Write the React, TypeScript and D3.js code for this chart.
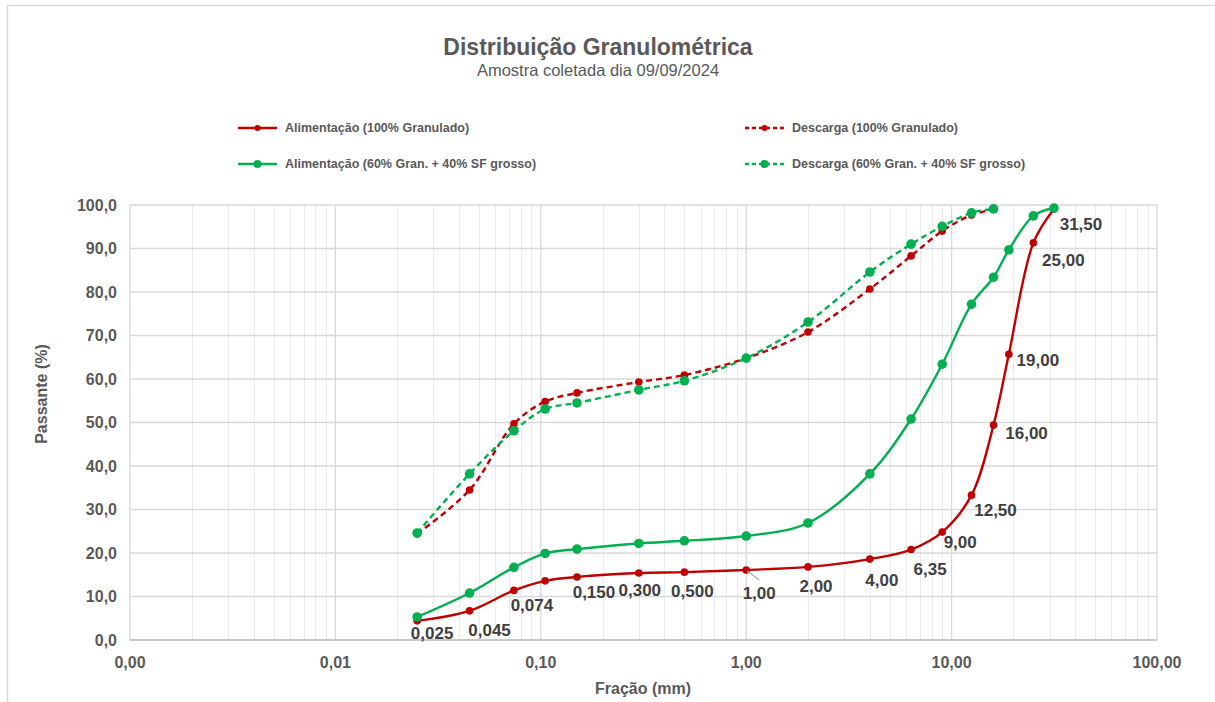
import React, { useEffect, useRef } from 'react';
import * as d3 from 'd3';

// Frações (mm) das peneiras
const fracoes = [0.025, 0.045, 0.074, 0.105, 0.15, 0.3, 0.5, 1, 2, 4, 6.35, 9, 12.5, 16, 19, 25, 31.5];

// Rótulos de dados da série Alimentação (100% Granulado)
const rotulos = ['0,025', '0,045', '0,074', '', '0,150', '0,300', '0,500', '1,00', '2,00', '4,00', '6,35', '9,00', '12,50', '16,00', '19,00', '25,00', '31,50'];

// Passante (%) por série
const alimGranulado = [4.4, 6.7, 11.4, 13.6, 14.5, 15.4, 15.6, 16.1, 16.8, 18.6, 20.8, 24.8, 33.3, 49.4, 65.7, 91.3, 99.1];
const descGranulado = [24.4, 34.5, 49.7, 54.8, 56.8, 59.3, 60.9, 64.8, 70.8, 80.7, 88.3, 94.0, 97.7, 99.0];
const alimMistura = [5.3, 10.8, 16.7, 19.9, 20.9, 22.2, 22.8, 23.9, 26.9, 38.2, 50.8, 63.4, 77.2, 83.4, 89.7, 97.5, 99.3];
const descMistura = [24.6, 38.2, 48.1, 53.1, 54.5, 57.5, 59.6, 64.8, 73.1, 84.6, 91.0, 95.1, 98.2, 99.1];

const xTicks = [0.001, 0.01, 0.1, 1, 10, 100];
const yTicks = [0, 10, 20, 30, 40, 50, 60, 70, 80, 90, 100];

// deslocamento dos rótulos (px) em relação ao ponto
const rotuloOffset: [number, number][] = [
  [15, 12], [20, 19], [18, 15], [0, 0], [17, 15], [1, 17], [8, 19], [13, 23], [8, 19],
  [12, 21], [19, 20], [18, 10], [24, 15], [33, 8], [29, 6], [30, 17], [27, 15],
];

const RED = '#C00000';
const GREEN = '#00B050';
const TXT = '#595959';
const FONT = '"Liberation Sans", Arial, sans-serif';

function App() {
  const svgRef = useRef<SVGSVGElement>(null);

  useEffect(() => {
    const W = 1215, H = 702;
    const svg = d3.select(svgRef.current);
    svg.selectAll('*').remove();
    svg.attr('width', W).attr('height', H).style('font-family', FONT);

    const locale = d3.formatLocale({ decimal: ',', thousands: '.', grouping: [3], currency: ['', ''] });
    const fx = locale.format('.2f');
    const fy = locale.format('.1f');

    // borda do gráfico
    svg.append('rect').attr('x', 7.5).attr('y', 5.5).attr('width', W).attr('height', H)
      .attr('fill', '#fff').attr('stroke', '#D9D9D9').attr('stroke-width', 1.5);

    const x = d3.scaleLog().domain([0.001, 100]).range([130, 1157]);
    const y = d3.scaleLinear().domain([0, 100]).range([640, 205]);

    // grade secundária (log)
    const minor: number[] = [];
    for (let e = -3; e < 2; e++) for (let m = 2; m <= 9; m++) minor.push(m * Math.pow(10, e));
    svg.append('g').selectAll('line').data(minor).enter().append('line')
      .attr('x1', d => Math.round(x(d)) + 0.5).attr('x2', d => Math.round(x(d)) + 0.5)
      .attr('y1', y(100)).attr('y2', y(0))
      .attr('stroke', '#EBEBEB').attr('stroke-width', 1);

    // grade principal
    svg.append('g').selectAll('line').data(yTicks).enter().append('line')
      .attr('x1', x(0.001)).attr('x2', x(100))
      .attr('y1', d => y(d)).attr('y2', d => y(d))
      .attr('stroke', '#D9D9D9').attr('stroke-width', 1.3);
    svg.append('g').selectAll('line').data(xTicks).enter().append('line')
      .attr('x1', d => x(d)).attr('x2', d => x(d))
      .attr('y1', y(100)).attr('y2', y(0))
      .attr('stroke', '#D9D9D9').attr('stroke-width', 1.3);

    // eixo inferior
    svg.append('line').attr('x1', x(0.001)).attr('x2', x(100)).attr('y1', y(0)).attr('y2', y(0))
      .attr('stroke', '#BFBFBF').attr('stroke-width', 1.3);

    // rótulos dos eixos
    svg.append('g').selectAll('text').data(yTicks).enter().append('text')
      .attr('x', 117).attr('y', d => y(d)).attr('dy', '0.35em')
      .attr('text-anchor', 'end').attr('font-size', 16).attr('font-weight', 'bold')
      .attr('fill', TXT).text(d => fy(d));
    svg.append('g').selectAll('text').data(xTicks).enter().append('text')
      .attr('x', d => x(d)).attr('y', 668)
      .attr('text-anchor', 'middle').attr('font-size', 16).attr('font-weight', 'bold')
      .attr('fill', TXT).text(d => fx(d));

    svg.append('text').attr('transform', 'translate(47,394) rotate(-90)')
      .attr('text-anchor', 'middle').attr('font-size', 16).attr('font-weight', 'bold')
      .attr('fill', TXT).text('Passante (%)');
    svg.append('text').attr('x', 643).attr('y', 694)
      .attr('text-anchor', 'middle').attr('font-size', 16).attr('font-weight', 'bold')
      .attr('fill', TXT).text('Fração (mm)');

    // títulos
    svg.append('text').attr('x', 598).attr('y', 55).attr('text-anchor', 'middle')
      .attr('font-size', 23).attr('font-weight', 'bold').attr('fill', TXT)
      .text('Distribuição Granulométrica');
    svg.append('text').attr('x', 598).attr('y', 76).attr('text-anchor', 'middle')
      .attr('font-size', 16.5).attr('fill', TXT)
      .text('Amostra coletada dia 09/09/2024');

    const series = [
      { name: 'Alimentação (100% Granulado)', values: alimGranulado, color: RED, dash: null, r: 3.8, lx: 238, ly: 128 },
      { name: 'Descarga (100% Granulado)', values: descGranulado, color: RED, dash: '6,4', r: 3.8, lx: 745, ly: 128 },
      { name: 'Alimentação (60% Gran. + 40% SF grosso)', values: alimMistura, color: GREEN, dash: null, r: 4.8, lx: 238, ly: 164 },
      { name: 'Descarga (60% Gran. + 40% SF grosso)', values: descMistura, color: GREEN, dash: '6,4', r: 4.8, lx: 745, ly: 164 },
    ];

    const line = d3.line<[number, number]>()
      .x(d => x(d[0])).y(d => y(d[1]))
      .curve(d3.curveCatmullRom.alpha(0.5));

    series.forEach(s => {
      const pts: [number, number][] = s.values.map((v, i) => [fracoes[i], v]);
      const g = svg.append('g');
      g.append('path').datum(pts).attr('d', line).attr('fill', 'none')
        .attr('stroke', s.color).attr('stroke-width', 2.4)
        .attr('stroke-dasharray', s.dash);
      g.selectAll('circle').data(pts).enter().append('circle')
        .attr('cx', d => x(d[0])).attr('cy', d => y(d[1])).attr('r', s.r)
        .attr('fill', s.color);

      // legenda
      const lg = svg.append('g');
      lg.append('line').attr('x1', s.lx).attr('x2', s.lx + 39).attr('y1', s.ly).attr('y2', s.ly)
        .attr('stroke', s.color).attr('stroke-width', 2.4).attr('stroke-dasharray', s.dash ? '4,3' : null);
      lg.append('circle').attr('cx', s.lx + 19.5).attr('cy', s.ly).attr('r', s.r - 0.8).attr('fill', s.color);
      lg.append('text').attr('x', s.lx + 47).attr('y', s.ly).attr('dy', '0.35em')
        .attr('font-size', 12.5).attr('font-weight', 'bold').attr('fill', TXT).text(s.name);
    });

    // linha de chamada do rótulo 1,00
    const i1 = fracoes.indexOf(1);
    svg.append('line')
      .attr('x1', x(fracoes[i1]) + 1).attr('y1', y(alimGranulado[i1]) + 1)
      .attr('x2', x(fracoes[i1]) + 13).attr('y2', y(alimGranulado[i1]) + 10)
      .attr('stroke', '#A6A6A6').attr('stroke-width', 1.2);

    // rótulos de dados
    svg.append('g').selectAll('text').data(rotulos).enter().append('text')
      .attr('x', (d, i) => x(fracoes[i]) + rotuloOffset[i][0])
      .attr('y', (d, i) => y(alimGranulado[i]) + rotuloOffset[i][1])
      .attr('dy', '0.35em').attr('text-anchor', 'middle')
      .attr('font-size', 17).attr('font-weight', 'bold').attr('fill', '#404040')
      .text(d => d);
  }, []);

  return (
    <div style={{ position: 'absolute', left: 0, top: 0 }}>
      <svg ref={svgRef} style={{ display: 'block' }}></svg>
    </div>
  );
}

export default App;
